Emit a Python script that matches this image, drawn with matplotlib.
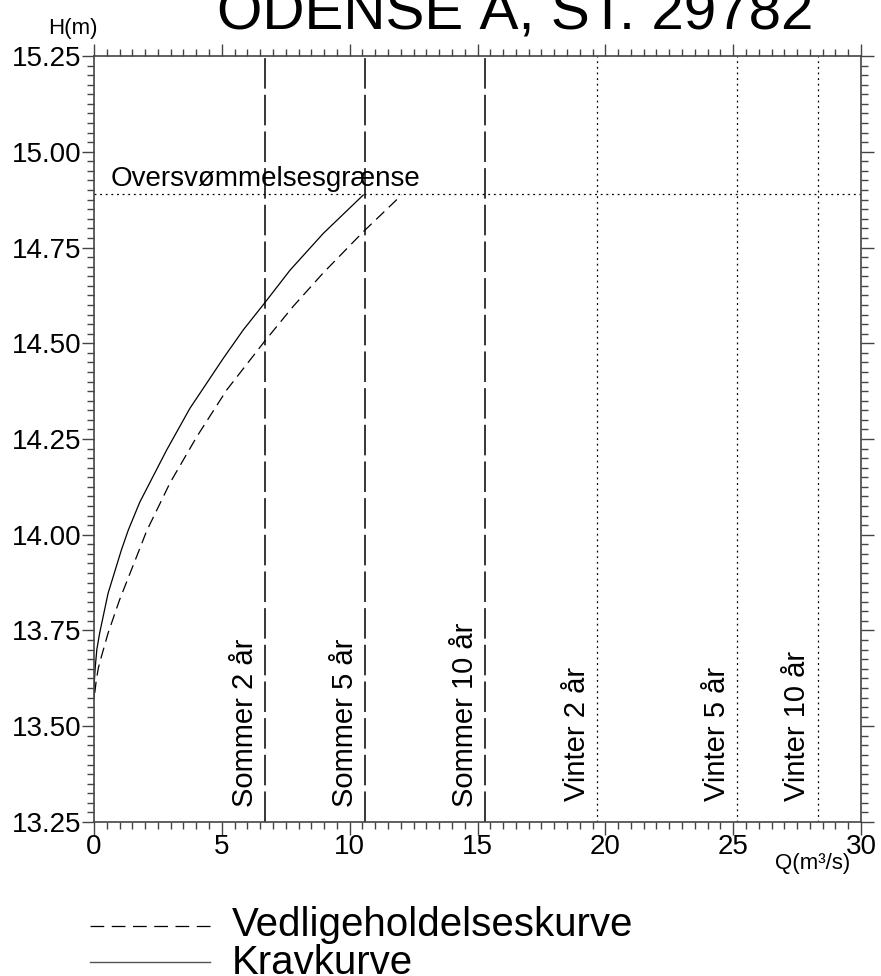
import matplotlib
matplotlib.use("Agg")
import matplotlib.pyplot as plt
from matplotlib.lines import Line2D
from matplotlib.ticker import MultipleLocator, FormatStrFormatter

plt.rcParams['font.family'] = ['Liberation Sans', 'DejaVu Sans']

# Kravkurve (solid)
krav_q = [0.0, 0.012, 0.05, 0.11, 0.22, 0.55, 1.07, 1.34, 1.79, 2.06, 2.84, 3.75, 5.06, 5.84,
          6.66, 7.67, 8.97, 10.53]
krav_h = [13.574, 13.615, 13.655, 13.70, 13.743, 13.847, 13.96, 14.012, 14.085, 14.12, 14.221,
          14.33, 14.461, 14.535, 14.604, 14.691, 14.787, 14.887]

# Vedligeholdelseskurve (dashed)
vedl_q = [0.03, 0.09, 0.17, 0.29, 0.55, 1.0, 1.72, 2.06, 2.57, 2.97, 4.02, 5.19, 6.10, 6.66,
          7.8, 8.97, 10.53, 12.03]
vedl_h = [13.587, 13.621, 13.652, 13.682, 13.743, 13.83, 13.952, 14.01, 14.08, 14.135, 14.256,
          14.378, 14.456, 14.504, 14.597, 14.684, 14.791, 14.887]

flood_h = 14.89
flood_label = "Oversvømmelsesgrænse"

sommer_q = [6.69, 10.6, 15.29]
sommer_labels = ["Sommer 2 år", "Sommer 5 år", "Sommer 10 år"]
vinter_q = [19.67, 25.15, 28.31]
vinter_labels = ["Vinter 2 år", "Vinter 5 år", "Vinter 10 år"]

title = "ODENSE Å, ST. 29782"

fig = plt.figure(figsize=(8.81, 9.76), dpi=100)
ax = fig.add_axes([0.1067, 0.1578, 0.8706, 0.7848])

ax.plot(krav_q, krav_h, color="black", lw=0.9)
ax.plot(vedl_q, vedl_h, color="black", lw=0.9, dashes=(9, 5))

ax.axhline(flood_h, color="black", lw=0.9, ls=(0, (1.5, 3)))
ax.text(0.65, flood_h + 0.006, flood_label, fontsize=20, ha="left", va="bottom")

for q, lab in zip(sommer_q, sommer_labels):
    ax.axvline(q, color="black", lw=1.1, dashes=(20, 4))
    ax.text(q - 0.25, 13.29, lab, rotation=90, fontsize=21, ha="right", va="bottom")
for q, lab in zip(vinter_q, vinter_labels):
    ax.axvline(q, color="black", lw=0.9, ls=(0, (1.5, 3)))
    ax.text(q - 0.25, 13.305, lab, rotation=90, fontsize=21, ha="right", va="bottom")

ax.set_xlim(0, 30)
ax.set_ylim(13.25, 15.25)
ax.xaxis.set_major_locator(MultipleLocator(5))
ax.xaxis.set_minor_locator(MultipleLocator(0.5))
ax.yaxis.set_major_locator(MultipleLocator(0.25))
ax.yaxis.set_minor_locator(MultipleLocator(0.025))
ax.yaxis.set_major_formatter(FormatStrFormatter("%.2f"))
ax.tick_params(which="both", direction="out", top=True, right=True,
               color="#444444", width=1.0, labelsize=20, pad=0)
ax.tick_params(which="major", length=9)
ax.tick_params(which="minor", length=5)
for s in ax.spines.values():
    s.set_color("#444444")
    s.set_linewidth(1.2)

fig.text(0.083, 0.971, "H(m)", fontsize=16, ha="center", va="center")
fig.text(0.922, 0.115, "Q(m³/s)", fontsize=16, ha="center", va="center")
fig.text(0.585, 0.971, title, fontsize=42, ha="center", va="baseline")

# legend
fig.add_artist(Line2D([0.102, 0.238], [0.051, 0.051], color="black", lw=0.9, dashes=(11, 6)))
fig.add_artist(Line2D([0.102, 0.238], [0.014, 0.014], color="#555555", lw=1.0))
fig.text(0.263, 0.052, "Vedligeholdelseskurve", fontsize=29, ha="left", va="center")
fig.text(0.263, 0.013, "Kravkurve", fontsize=29, ha="left", va="center")

fig.savefig("out.png", dpi=100)
